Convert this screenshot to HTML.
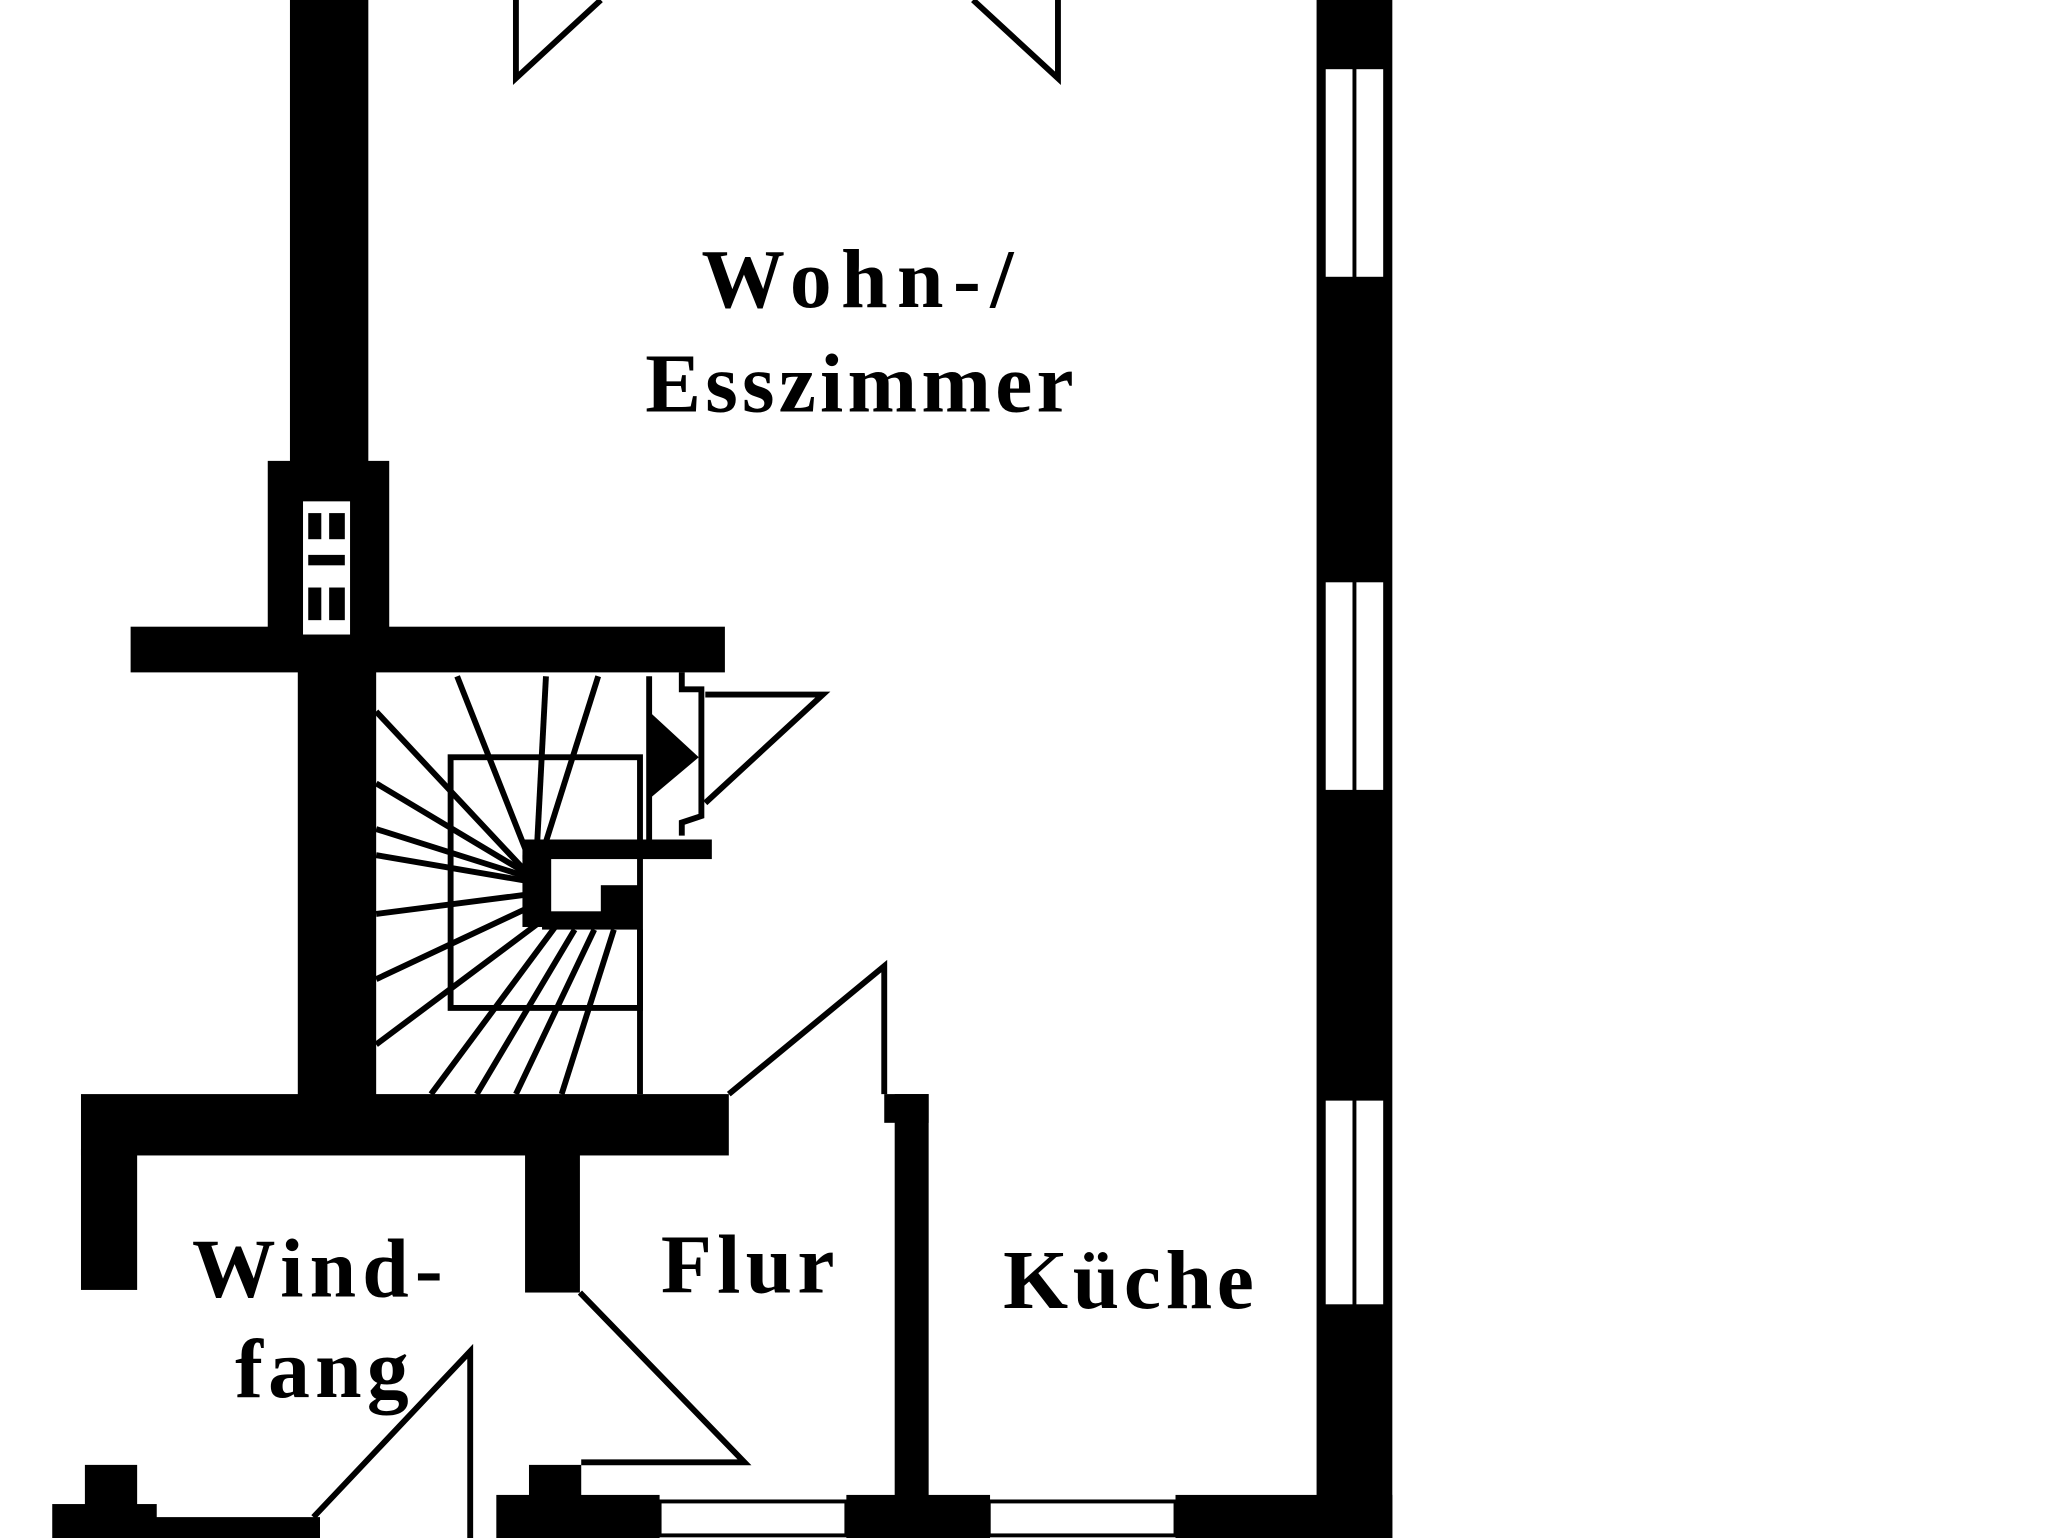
<!DOCTYPE html>
<html><head><meta charset="utf-8"><style>
html,body{margin:0;padding:0;background:#fff;}
svg{display:block;}
text{font-family:"Liberation Serif",serif;font-weight:bold;fill:#000;font-size:64px;letter-spacing:4px;}
</style></head><body>
<svg width="2048" height="1538" viewBox="0 0 1568 1178" preserveAspectRatio="none">
<rect width="1568" height="1178" fill="#fff"/>
<g fill="#000">
<rect x="222" y="0" width="60" height="360"/>
<rect x="205" y="353" width="93" height="137"/>
<rect x="100" y="480" width="455" height="35"/>
<rect x="228" y="510" width="60" height="335"/>
<rect x="62" y="838" width="496" height="47"/>
<rect x="62" y="880" width="43" height="108"/>
<rect x="402" y="880" width="42" height="110"/>
<rect x="1008" y="0" width="58" height="1178"/>
<rect x="685" y="838" width="26" height="312"/>
<rect x="677" y="838" width="34" height="22"/>
<rect x="40" y="1152" width="80" height="26"/>
<rect x="65" y="1122" width="40" height="40"/>
<rect x="115" y="1162" width="130" height="16"/>
<rect x="380" y="1145" width="125" height="33"/>
<rect x="405" y="1122" width="40" height="40"/>
<rect x="648" y="1145" width="110" height="33"/>
<rect x="900" y="1145" width="166" height="33"/>
<rect x="400" y="643" width="145" height="15"/>
<rect x="400" y="655" width="22" height="55"/>
<rect x="415" y="698" width="75" height="14"/>
<rect x="460" y="678" width="30" height="32"/>
<polygon points="497,545 535,580 497,612"/>
</g>
<g fill="#fff" stroke="#000" stroke-width="2">
<rect x="1014" y="52" width="46" height="161"/>
<rect x="1014" y="445" width="46" height="161"/>
<rect x="1014" y="842" width="46" height="158"/>
</g>
<g stroke="#000" stroke-width="3">
<line x1="1037" y1="52" x2="1037" y2="213"/>
<line x1="1037" y1="445" x2="1037" y2="606"/>
<line x1="1037" y1="842" x2="1037" y2="1000"/>
</g>
<g fill="#fff" stroke="#000" stroke-width="3">
<rect x="505" y="1150" width="143" height="26"/>
<rect x="757" y="1150" width="143" height="26"/>
</g>
<rect x="231" y="383" width="38" height="104" fill="#fff" stroke="#000" stroke-width="2"/>
<g fill="#000"><rect x="236" y="393" width="10" height="20"/><rect x="252" y="393" width="12" height="20"/><rect x="236" y="425" width="28" height="8"/><rect x="236" y="450" width="10" height="25"/><rect x="252" y="450" width="12" height="25"/></g>
<g fill="none" stroke="#000" stroke-width="4.5" stroke-linejoin="miter">
<polyline points="395,0 395,60 460,0"/>
<polyline points="745,0 810,60 810,0"/>
<polyline points="558,838 677,740 677,838"/>
<polyline points="240,1162 360,1035 360,1178"/>
<polyline points="444,990 570,1120 445,1120"/>
<polyline points="540,532 630,532 540,615"/>
<polyline points="522,515 522,528 537,528 537,625 522,630 522,640"/>
<rect x="345" y="580" width="145" height="192"/>
<line x1="490" y1="712" x2="490" y2="838"/>
<line x1="410" y1="670" x2="350" y2="518"/>
<line x1="410" y1="670" x2="418" y2="518"/>
<line x1="410" y1="670" x2="458" y2="518"/>
<line x1="497" y1="518" x2="497" y2="643"/>
<line x1="405" y1="670" x2="288" y2="545"/>
<line x1="405" y1="670" x2="288" y2="600"/>
<line x1="405" y1="672" x2="288" y2="635"/>
<line x1="405" y1="675" x2="288" y2="655"/>
<line x1="405" y1="685" x2="288" y2="700"/>
<line x1="405" y1="695" x2="288" y2="750"/>
<line x1="415" y1="705" x2="288" y2="800"/>
<line x1="425" y1="710" x2="330" y2="838"/>
<line x1="440" y1="712" x2="365" y2="838"/>
<line x1="455" y1="712" x2="395" y2="838"/>
<line x1="470" y1="712" x2="430" y2="838"/>
</g>
<text x="537" y="235" textLength="243">Wohn-/</text>
<text x="494" y="315" textLength="332">Esszimmer</text>
<text x="147" y="993" textLength="196">Wind-</text>
<text x="180" y="1070">fang</text>
<text x="506" y="990">Flur</text>
<text x="768" y="1002" textLength="196">Küche</text>
</svg>
</body></html>
